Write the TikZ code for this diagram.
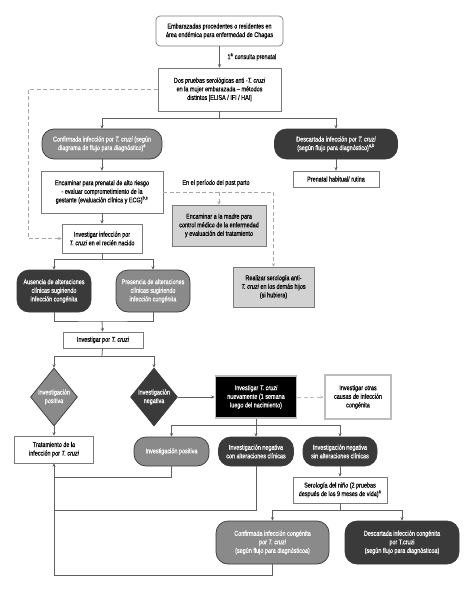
\documentclass[tikz,border=0pt]{standalone}
\usepackage{fontspec}
\setmainfont{Liberation Sans}[FakeStretch=0.78,FakeBold=0.35]
\usetikzlibrary{shapes.geometric,arrows.meta}
\definecolor{linegray}{HTML}{606060}
\definecolor{boxgray}{HTML}{7A7A7A}
\definecolor{midgray}{HTML}{8A8A8A}
\definecolor{darkgray}{HTML}{3A3A3A}
\definecolor{lightgray}{HTML}{D2D2D2}
\definecolor{framegray}{HTML}{BDBDBD}
\begin{document}
\begin{tikzpicture}[x=1pt,y=-1pt,font=\fontsize{7}{8.6}\selectfont,
	sz/.style 2 args={minimum width=#1,minimum height=#2},
	line/.style={draw=linegray,line width=.8pt},
	arr/.style={line,-{Stealth[length=3.5pt,width=3.2pt]}},
	dasharr/.style={arr,draw=gray!70,dash pattern=on 4pt off 2.5pt},
	wbox/.style={draw=boxgray,line width=.7pt,fill=white,align=center,inner sep=1pt},
	lbox/.style={wbox,fill=lightgray},
	pillmid/.style={wbox,draw=darkgray,fill=midgray,text=white,rounded corners=12pt},
	pilldark/.style={wbox,draw=darkgray,fill=darkgray,text=white,rounded corners=12pt},
	dia/.style={diamond,draw=darkgray,line width=.7pt,inner sep=0pt},
	]
	\useasboundingbox (0,0) rectangle (474,591);
	% madre
	\node[wbox,sz={127}{30},rounded corners=4pt] (top) at (219.5,31) {Embarazadas procedentes o residentes en\\área endémica para enfermedad de Chagas};
	\node[anchor=west] (cons) at (224,57) {1\textsuperscript{a} consulta prenatal};
	\node[wbox,sz={123}{43}] (pru) at (219.5,89.5) {Dos pruebas serológicas anti -\textit{T. cruzi}\\en la mujer embarazada -- métodos\\distintos [ELISA / IFI / HAI]};
	\node[pillmid,sz={120}{30}] (conf) at (102,144) {Confirmada infección por \textit{T. cruzi} (según\\diagrama de flujo para diagnóstico)\textsuperscript{a}};
	\node[pilldark,sz={123}{30}] (desc) at (336,144) {Descartada infección por \textit{T. cruzi}\\(según flujo para diagnóstico)\textsuperscript{a,b}};
	\node[wbox,sz={86}{16}] (rut) at (336,179) {Prenatal habitual/ rutina};
	\node[wbox,sz={122}{42}] (enc) at (102,192) {Encaminar para prenatal de alto riesgo\\- evaluar comprometimiento de la\\gestante (evaluación clínica y ECG)\textsuperscript{b,c}};
	\node (post) at (216,183) {En el período del post parto};
	\node[lbox,sz={94}{41}] (mad) at (219,225.5) {Encaminar a la madre para\\control médico de la enfermedad\\y evaluación del tratamiento};
	\node[lbox,sz={81}{40}] (real) at (273.5,287) {Realizar serología anti-\\\textit{T. cruzi} en los demás hijos\\(si hubiera)};
	% recien nacido
	\node[wbox,sz={80}{29}] (inv) at (102,238.5) {Investigar infección por\\\textit{T. cruzi} en el recién nacido};
	\node[pilldark,sz={74}{42},rounded corners=12pt] (aus) at (54,291) {Ausencia de alteraciones\\clínicas sugiriendo\\infección congénita};
	\node[pillmid,sz={74}{42},rounded corners=12pt] (pres) at (153,291) {Presencia de alteraciones\\clínicas sugiriendo\\infección congénita};
	\node[wbox,sz={80}{16}] (ipor) at (103,340) {Investigar por \textit{T. cruzi}};
	\node[dia,fill=midgray,sz={47}{58}] (dpos) at (54,397) {};
	\node[text=white,align=center] (tpos) at (dpos) {Investigación\\positiva};
	\node[dia,fill=darkgray,sz={47}{58}] (dneg) at (154,397) {};
	\node[text=white,align=center] (tneg) at (dneg) {Investigación\\negativa};
	\node[wbox,sz={81}{42},fill=black,text=white,draw=framegray,line width=1.6pt] (nue) at (256,397) {Investigar \textit{T. cruzi}\\nuevamente (1 semana\\luego del nacimiento)};
	\node[wbox,sz={66}{44},draw=framegray,line width=2.6pt] (otr) at (358,397) {Investigar otras\\causas de infección\\congénita};
	\node[wbox,sz={79}{27}] (tra) at (54,449.5) {Tratamiento de la\\infección por \textit{T. cruzi}};
	\node[pillmid,sz={75}{29}] (ipos) at (171.5,451.5) {Investigación positiva};
	\node[pilldark,sz={75}{29}] (icon) at (256,451.5) {Investigación negativa\\con alteraciones clínicas};
	\node[pilldark,sz={74}{29}] (isin) at (340,451.5) {Investigación negativa\\sin alteraciones clínicas};
	\node[wbox,sz={94}{26}] (ser) at (340,490) {Serología del niño (2 pruebas\\después de los 9 meses de vida)\textsuperscript{a}};
	\node[pillmid,sz={113}{43}] (ccon) at (272.5,542.5) {Confirmada infección congénita\\por \textit{T. cruzi}\\(según flujo para diagnósticoa)};
	\node[pilldark,sz={114}{43}] (dcon) at (402,542.5) {Descartada infección congénita\\por T.cruzi\\(según flujo para diagnósticoa)};
	% ramas
	\path (219.5,118) coordinate (b1) (102,259) coordinate (b2) (102,321) coordinate (b3)
	(102,356) coordinate (b4) (256,425) coordinate (b5) (340,510) coordinate (b6)
	(28,238.5) coordinate (dl) (mad.north |- enc.east) coordinate (pp)
	(54,477) coordinate (r1) (54,510) coordinate (r2) (54,575) coordinate (r3);
	\draw[arr] (top) -- (pru);
	\draw[line] (pru) -- (b1);
	\draw[arr] (b1) -| (conf);
	\draw[arr] (b1) -| (desc);
	\draw[arr] (desc) -- (rut);
	\draw[arr] (conf) -- (enc);
	\draw[arr] (enc) -- (inv);
	\draw[dasharr] (pru.west) -| (dl) -- (inv.west);
	\draw[dasharr] (enc.east) -| (real.north);
	\draw[dasharr] (pp) -- (mad.north);
	\draw[line] (inv) -- (b2);
	\draw[arr] (b2) -| (aus);
	\draw[arr] (b2) -| (pres);
	\draw[line] (aus.south) |- (b3) -| (pres.south);
	\draw[arr] (b3) -- (ipor);
	\draw[line] (ipor) -- (b4);
	\draw[arr] (b4) -| (dpos.north);
	\draw[arr] (b4) -| (dneg.north);
	\draw[arr] (dpos.south) -- (tra);
	\draw[arr] (dneg.east) -- (nue);
	\draw[dasharr,draw=framegray,line width=1pt] (nue) -- (otr);
	\draw[line] (nue) -- (b5);
	\foreach \n in {ipos,icon,isin} \draw[arr] (b5) -| (\n);
	\draw[arr] (isin) -- (ser);
	\draw[line] (ser) -- (b6);
	\draw[arr] (b6) -| (ccon);
	\draw[arr] (b6) -| (dcon);
	\draw[line] (ipos.south) |- (r1);
	\draw[line] (icon.south) |- (r2);
	\draw[arr] (ccon.south) |- (r3) -- (tra.south);
\end{tikzpicture}
\end{document}
